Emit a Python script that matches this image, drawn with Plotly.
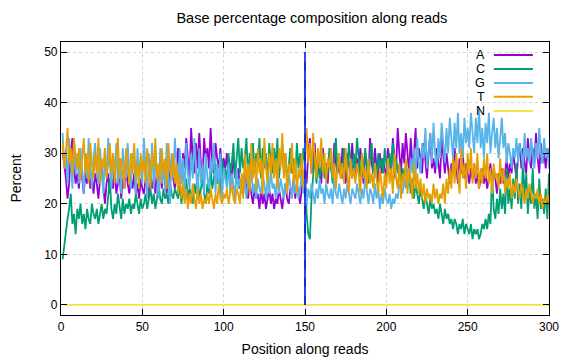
import plotly.graph_objects as go

positions = list(range(1, 301))

A = [30, 28, 25, 21, 24, 30, 33, 27, 24, 26,
     23, 27, 25, 22, 26, 24, 28, 23, 25, 22,
     26, 24, 21, 25, 27, 23, 20, 24, 26, 22,
     25, 23, 27, 22, 24, 26, 21, 25, 23, 27,
     24, 22, 25, 23, 26, 22, 24, 21, 25, 23,
     22, 25, 24, 21, 26, 23, 25, 22, 27, 24,
     26, 23, 28, 25, 22, 27, 24, 29, 25, 23,
     27, 31, 26, 24, 30, 27, 33, 28, 25, 35,
     29, 26, 32, 27, 34, 28, 25, 33, 29, 31,
     27, 35, 28, 26, 32, 29, 27, 31, 26, 29,
     27, 30, 25, 28, 24, 29, 26, 24, 27, 23,
     25, 22, 26, 23, 21, 24, 22, 20, 23, 21,
     22, 19, 23, 20, 22, 19, 21, 23, 20, 22,
     19, 21, 20, 23, 21, 19, 22, 24, 21, 20,
     23, 22, 25, 21, 24, 22, 20, 23, 25, 27,
     24, 30, 33, 26, 28, 32, 25, 29, 27, 24,
     31, 26, 28, 24, 30, 27, 25, 32, 28, 26,
     29, 25, 31, 27, 24, 30, 28, 26, 32, 27,
     25, 29, 26, 31, 28, 24, 30, 27, 25, 33,
     28, 26, 31, 27, 24, 30, 26, 29, 27, 25,
     31, 28, 26, 33, 29, 27, 35, 30, 26, 32,
     28, 34, 29, 26, 33, 28, 30, 35, 27, 31,
     29, 26, 32, 28, 25, 30, 34, 27, 29, 26,
     31, 28, 25, 33, 29, 26, 30, 27, 24, 28,
     26, 31, 27, 24, 29, 26, 30, 25, 28, 26,
     24, 27, 25, 28, 24, 26, 23, 25, 27, 24,
     26, 23, 25, 28, 24, 27, 25, 22, 26, 24,
     27, 24, 26, 29, 25, 28, 26, 30, 27, 25,
     29, 32, 27, 31, 28, 26, 33, 29, 27, 31,
     28, 34, 29, 26, 32, 28, 30, 27, 31, 29]

C = [9, 12, 15, 17, 19, 22, 16, 18, 14, 19,
     17, 20, 16, 18, 15, 19, 17, 16, 20, 18,
     17, 19, 16, 18, 20, 17, 19, 18, 21, 25,
     19, 17, 20, 18, 22, 19, 17, 21, 18, 20,
     19, 21, 18, 20, 19, 22, 20, 18, 21, 19,
     20, 22, 19, 21, 23, 20, 22, 19, 21, 24,
     21, 20, 23, 21, 22, 20, 24, 22, 21, 23,
     22, 21, 24, 20, 23, 22, 25, 21, 23, 22,
     20, 24, 22, 26, 21, 23, 25, 22, 20, 24,
     22, 27, 23, 25, 28, 24, 26, 22, 29, 25,
     27, 24, 30, 26, 28, 32, 25, 29, 33, 26,
     31, 27, 29, 33, 25, 30, 28, 32, 26, 30,
     28, 33, 25, 31, 27, 30, 24, 32, 28, 26,
     31, 27, 33, 25, 29, 32, 26, 30, 24, 28,
     31, 26, 29, 25, 32, 27, 30, 26, 31, 28,
     18, 14, 13, 21, 26, 30, 24, 28, 25, 27,
     30, 25, 28, 26, 31, 27, 24, 29, 33, 26,
     30, 27, 25, 31, 28, 26, 32, 29, 25, 30,
     27, 33, 28, 25, 30, 26, 31, 27, 24, 29,
     32, 26, 28, 25, 30, 27, 29, 26, 31, 28,
     26, 30, 27, 32, 25, 29, 26, 28, 24, 27,
     25, 28, 23, 26, 22, 25, 21, 24, 22, 20,
     23, 21, 19, 22, 20, 18, 21, 19, 20, 18,
     19, 17, 20, 18, 16, 19, 17, 18, 16, 17,
     15, 17, 16, 14, 16, 15, 17, 14, 16, 15,
     14, 16, 13, 15, 14, 15, 13, 14, 16, 15,
     17, 15, 18, 16, 26, 19, 17, 21, 18, 23,
     19, 22, 18, 27, 20, 23, 19, 25, 21, 28,
     20, 24, 19, 29, 21, 26, 18, 23, 20, 27,
     19, 22, 17, 25, 19, 21, 18, 23, 17, 26]

G = [34, 27, 31, 24, 33, 28, 23, 32, 26, 30,
     24, 31, 27, 22, 30, 25, 33, 28, 23, 29,
     32, 26, 24, 31, 27, 22, 30, 25, 33, 28,
     23, 30, 26, 32, 24, 29, 22, 31, 27, 25,
     32, 26, 23, 30, 28, 22, 31, 25, 29, 24,
     33, 27, 21, 30, 25, 32, 23, 29, 26, 21,
     31, 24, 28, 22, 32, 26, 20, 30, 25, 33,
     27, 22, 31, 24, 29, 21, 32, 26, 23, 30,
     25, 33, 27, 21, 31, 24, 28, 22, 30, 25,
     23, 29, 26, 32, 22, 28, 24, 30, 21, 27,
     25, 23, 28, 22, 26, 24, 21, 27, 23, 25,
     22, 26, 24, 21, 25, 23, 27, 22, 24, 21,
     25, 23, 22, 26, 24, 21, 25, 22, 27, 23,
     24, 21, 26, 22, 25, 23, 21, 24, 22, 26,
     23, 21, 25, 22, 24, 21, 23, 26, 22, 24,
     20, 23, 21, 24, 22, 20, 23, 21, 25, 22,
     23, 20, 24, 22, 21, 23, 20, 25, 22, 21,
     24, 22, 20, 23, 21, 24, 22, 20, 23, 22,
     21, 24, 22, 20, 23, 21, 25, 22, 20, 23,
     22, 20, 24, 21, 23, 19, 22, 20, 23, 21,
     20, 22, 19, 21, 20, 22, 21, 24, 23, 22,
     25, 23, 27, 24, 29, 26, 31, 25, 33, 28,
     26, 32, 29, 35, 27, 31, 34, 28, 36, 30,
     27, 33, 29, 36, 31, 28, 35, 30, 37, 32,
     29, 36, 31, 38, 30, 34, 29, 37, 32, 35,
     31, 38, 33, 30, 37, 32, 39, 31, 35, 29,
     36, 32, 38, 30, 34, 37, 31, 35, 29, 33,
     37, 31, 34, 28, 32, 30, 27, 31, 29, 33,
     28, 32, 30, 27, 34, 29, 31, 28, 33, 30,
     27, 32, 29, 35, 30, 28, 33, 29, 31, 27]

T = [32, 27, 30, 35, 28, 31, 26, 33, 29, 27,
     31, 25, 29, 33, 26, 30, 24, 32, 28, 25,
     30, 26, 33, 24, 29, 27, 31, 25, 28, 32,
     26, 30, 24, 28, 33, 25, 29, 27, 23, 31,
     27, 24, 30, 26, 32, 25, 28, 23, 30, 26,
     29, 24, 31, 26, 23, 30, 27, 33, 25, 28,
     24, 31, 26, 29, 23, 32, 27, 25, 30, 24,
     28, 22, 26, 21, 24, 20, 23, 19, 22, 20,
     24, 21, 19, 23, 20, 22, 19, 21, 20, 22,
     20, 23, 21, 19, 22, 20, 24, 21, 20, 22,
     21, 23, 20, 22, 24, 21, 20, 23, 22, 20,
     26, 21, 30, 24, 28, 22, 32, 25, 29, 23,
     31, 26, 29, 22, 33, 27, 24, 30, 26, 32,
     25, 29, 23, 31, 27, 34, 25, 30, 22, 28,
     26, 32, 24, 29, 22, 27, 25, 30, 23, 28,
     35, 28, 32, 26, 34, 29, 25, 31, 27, 33,
     26, 30, 24, 29, 27, 31, 25, 28, 23, 27,
     30, 25, 28, 24, 31, 26, 22, 29, 25, 27,
     24, 28, 26, 22, 30, 25, 27, 23, 29, 24,
     26, 23, 28, 25, 22, 27, 24, 21, 26, 23,
     29, 24, 27, 22, 30, 25, 23, 28, 21, 26,
     24, 29, 22, 27, 25, 21, 28, 23, 26, 22,
     25, 21, 24, 20, 23, 21, 22, 20, 24, 21,
     23, 20, 22, 21, 24, 20, 25, 22, 27, 23,
     29, 24, 30, 26, 22, 31, 25, 28, 23, 30,
     26, 31, 24, 28, 25, 30, 23, 27, 24, 29,
     25, 30, 24, 27, 22, 28, 25, 26, 23, 29,
     24, 27, 22, 25, 23, 26, 21, 24, 22, 25,
     23, 21, 24, 22, 20, 23, 21, 24, 22, 20,
     22, 21, 23, 20, 22, 19, 21, 20, 22, 20]

N = [0.0] * 300

series_names = ["A", "C", "G", "T", "N"]
series_values = [A, C, G, T, N]
series_colors = ["#9400d3", "#009e73", "#56b4e9", "#e69f00", "#f0e442"]

marker_position = 150
marker_range = [0, 50]

x_ticks = [0, 50, 100, 150, 200, 250, 300]
y_ticks = [0, 10, 20, 30, 40, 50]

FONT = "Liberation Sans, Arial, sans-serif"

fig = go.Figure()
for name, vals, col in zip(series_names, series_values, series_colors):
    fig.add_trace(go.Scatter(x=positions, y=vals, mode="lines", name=name,
                             line=dict(color=col, width=1.8), showlegend=False))

fig.add_trace(go.Scatter(x=[marker_position, marker_position], y=marker_range,
                         mode="lines", line=dict(color="#2a44ff", width=2),
                         showlegend=False))
fig.add_trace(go.Scatter(x=[marker_position, marker_position], y=marker_range,
                         mode="lines", line=dict(color="#10108a", width=1, dash="dash"),
                         showlegend=False))

# gnuplot-style key: label on the left, sample line on the right
row_y = [0.952, 0.901, 0.850, 0.799, 0.747]
for name, col, yy in zip(series_names, series_colors, row_y):
    fig.add_annotation(x=0.870, y=yy, xref="paper", yref="paper", text=name,
                       showarrow=False, xanchor="right", yanchor="middle",
                       borderpad=0,
                       font=dict(family=FONT, size=12.5, color="black"))
    fig.add_shape(type="line", xref="paper", yref="paper",
                  x0=0.887, x1=0.967, y0=yy, y1=yy,
                  line=dict(color=col, width=2))

axis_common = dict(showline=True, linecolor="black", linewidth=1.2, mirror="ticks",
                   ticks="inside", ticklen=6, tickcolor="black", tickwidth=1,
                   showgrid=True, gridcolor="#d4d4d4", griddash="dot", gridwidth=1,
                   zeroline=False, automargin=False,
                   tickfont=dict(family=FONT, size=12, color="black"))

fig.update_xaxes(range=[0, 300], tickvals=x_ticks,
                 title=dict(text="Position along reads", standoff=11,
                            font=dict(family=FONT, size=14, color="black")),
                 **axis_common)
fig.update_yaxes(range=[-2, 52], tickvals=y_ticks,
                 title=dict(text="Percent", standoff=26,
                            font=dict(family=FONT, size=14, color="black")),
                 **axis_common)

# page body has an 8px margin, so the figure is sized to fit the 576x360 window
fig.update_layout(
    width=568, height=352,
    margin=dict(l=53, r=27, t=34, b=45),
    paper_bgcolor="white", plot_bgcolor="white",
    title=dict(text="Base percentage composition along reads", x=0.535, xanchor="center",
               y=0.972, yanchor="middle",
               font=dict(family=FONT, size=14.5, color="black")),
    showlegend=False,
)

fig.write_html("out.html")
